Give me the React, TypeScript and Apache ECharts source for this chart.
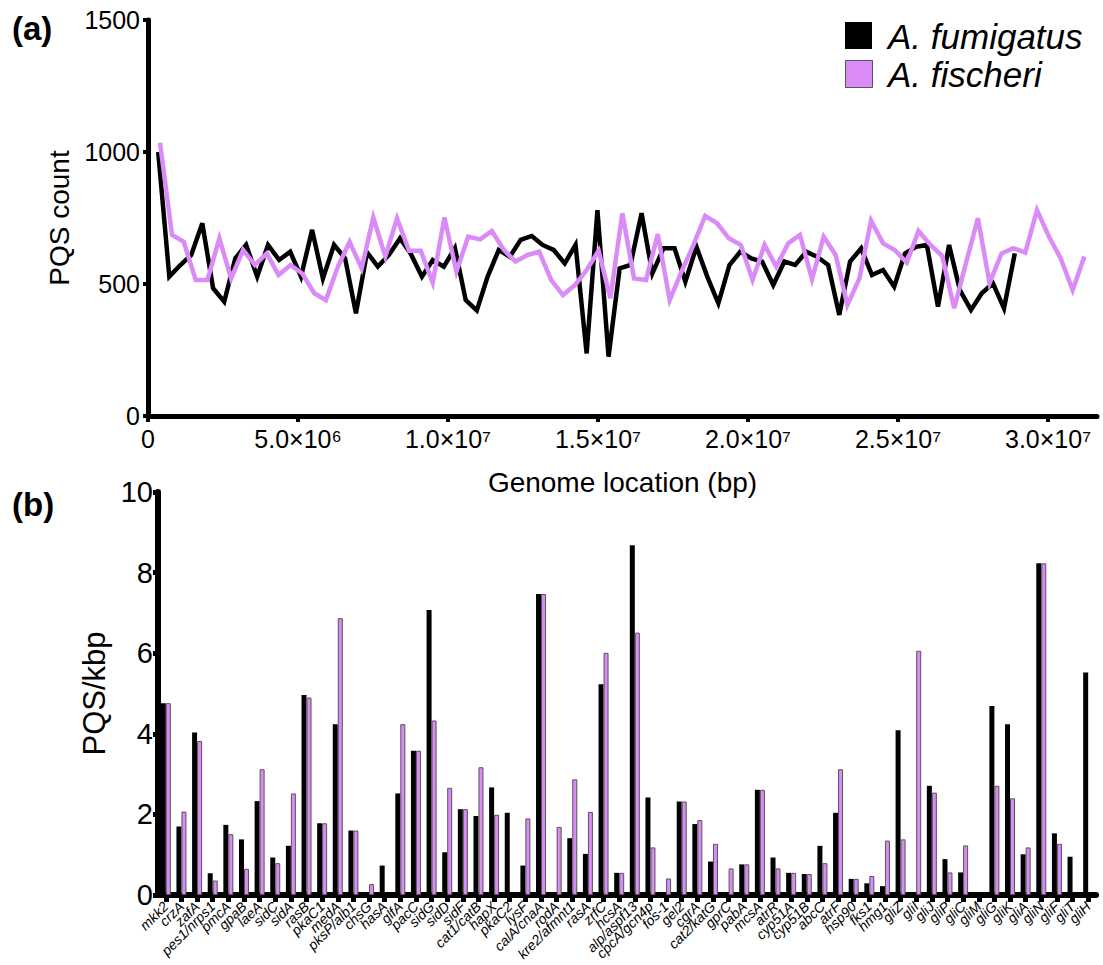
import React, { useEffect, useRef } from "react";
import * as echarts from "echarts";

const FONT = '"Liberation Sans", Arial, Helvetica, sans-serif';
const PURPLE = "#DB8BF7";

// Panel (a): genome windows (position in Mb) and PQS counts
const fumigatusPosMb = [
  0.34, 0.71, 1.08, 1.44, 1.81, 2.17, 2.54, 2.91, 3.27, 3.64,
  4.0, 4.37, 4.74, 5.1, 5.47, 5.83, 6.2, 6.57, 6.93, 7.3,
  7.66, 8.03, 8.4, 8.76, 9.13, 9.49, 9.86, 10.23, 10.59, 10.96,
  11.32, 11.69, 12.06, 12.42, 12.79, 13.15, 13.52, 13.89, 14.25, 14.62,
  14.98, 15.35, 15.72, 16.08, 16.45, 16.81, 17.18, 17.55, 17.91, 18.28,
  18.64, 19.01, 19.38, 19.74, 20.11, 20.47, 20.84, 21.21, 21.57, 21.94,
  22.3, 22.67, 23.04, 23.4, 23.77, 24.13, 24.5, 24.87, 25.23, 25.6,
  25.96, 26.33, 26.7, 27.06, 27.43, 27.79, 28.16, 28.53, 28.89,
];
const fumigatusPQS = [
  1000, 528, 572, 610, 730, 484, 433, 597, 648, 528,
  648, 591, 622, 528, 705, 521, 648, 597, 389, 620,
  566, 610, 673, 614, 528, 591, 566, 636, 439, 400,
  528, 629, 603, 667, 682, 648, 629, 578, 648, 237,
  780, 225, 559, 572, 768, 540, 635, 635, 509, 641,
  528, 427, 572, 622, 597, 585, 496, 585, 572, 622,
  603, 572, 383, 585, 635, 534, 553, 490, 616, 641,
  648, 414, 648, 477, 402, 465, 503, 408, 616,
];
const fischeriPosMb = [
  0.4, 0.8, 1.19, 1.59, 1.98, 2.38, 2.77, 3.17, 3.56, 3.96,
  4.35, 4.75, 5.14, 5.54, 5.93, 6.33, 6.72, 7.12, 7.51, 7.91,
  8.3, 8.7, 9.09, 9.49, 9.88, 10.28, 10.67, 11.07, 11.46, 11.86,
  12.25, 12.65, 13.04, 13.44, 13.83, 14.23, 14.62, 15.02, 15.41, 15.81,
  16.2, 16.6, 16.99, 17.39, 17.78, 18.18, 18.57, 18.97, 19.36, 19.76,
  20.15, 20.55, 20.94, 21.34, 21.73, 22.13, 22.52, 22.92, 23.31, 23.71,
  24.1, 24.5, 24.89, 25.29, 25.68, 26.08, 26.47, 26.87, 27.26, 27.66,
  28.05, 28.45, 28.84, 29.24, 29.63, 30.03, 30.42, 30.82, 31.21,
];
const fischeriPQS = [
  1035, 686, 660, 515, 515, 673, 521, 629, 572, 616,
  534, 572, 540, 465, 439, 566, 660, 559, 752, 604,
  749, 626, 626, 505, 752, 547, 679, 669, 701, 629,
  585, 610, 622, 515, 458, 496, 553, 626, 446, 768,
  521, 515, 689, 439, 547, 648, 758, 730, 673, 648,
  515, 648, 566, 654, 686, 518, 679, 610, 420, 521,
  740, 654, 629, 581, 701, 648, 606, 408, 578, 749,
  503, 616, 636, 619, 780, 679, 597, 477, 604,
];
const genomeTicks = [0, 5e6, 1e7, 1.5e7, 2e7, 2.5e7, 3e7];
const genomeTickLabels = ["0", "5.0×10⁶", "1.0×10⁷", "1.5×10⁷", "2.0×10⁷", "2.5×10⁷", "3.0×10⁷"];

// Panel (b): genes and PQS density
const genes = [
  "mkk2", "crzA", "zafA", "pes1/nrps1", "pmcA", "gpaB", "laeA", "sidC", "sidA", "rasB",
  "pkaC1", "medA", "pksP/alb1", "chsG", "hasA", "glfA", "pacC", "sidG", "sidD", "sidF",
  "cat1/catB", "hapX", "pkaC2", "lysF", "calA/cnaA", "rodA", "kre2/afmnt1", "rasA", "zrfC", "hcsA",
  "alp/aspf13", "cpcA/gcn4p", "fos-1", "gel2", "cgrA", "cat2/katG", "gprC", "pabA", "mcsA", "atrR",
  "cyp51A", "cyp51B", "abcC", "atrF", "hsp90", "fks1", "hmg1", "gliZ", "gliI", "gliJ",
  "gliP", "gliC", "gliM", "gliG", "gliK", "gliA", "gliN", "gliF", "gliT", "gliH",
];
const fumigatusDensity = [
  4.76, 1.70, 4.03, 0.54, 1.74, 1.38, 2.33, 0.93, 1.22, 4.96,
  1.78, 4.24, 1.60, null, 0.73, 2.52, 3.58, 7.07, 1.06, 2.13,
  1.96, 2.67, 2.04, 0.73, 7.47, null, 1.41, 1.02, 5.23, 0.55,
  8.68, 2.42, null, 2.32, 1.76, 0.83, null, 0.76, 2.61, 0.93,
  0.55, 0.52, 1.22, 2.04, 0.40, 0.29, 0.22, 4.09, null, 2.71,
  0.89, 0.56, null, 4.69, 4.24, 1.01, 8.23, 1.53, 0.95, 5.52,
];
const fischeriDensity = [
  4.76, 2.07, 3.82, 0.36, 1.51, 0.65, 3.12, 0.79, 2.52, 4.90,
  1.78, 6.87, 1.60, 0.27, null, 4.24, 3.58, 4.33, 2.66, 2.13,
  3.17, 1.99, null, 1.90, 7.47, 1.69, 2.87, 2.06, 6.01, 0.55,
  6.51, 1.18, 0.41, 2.32, 1.86, 1.27, 0.66, 0.76, 2.61, 0.66,
  0.55, 0.52, 0.79, 3.12, 0.40, 0.47, 1.35, 1.38, 6.06, 2.54,
  0.56, 1.23, null, 2.71, 2.40, 1.18, 8.23, 1.27, null, null,
];

export default function App() {
  const ref = useRef<HTMLDivElement>(null);
  useEffect(() => {
    if (!ref.current) return;
    const chart = echarts.init(ref.current, null, { renderer: "svg" });
    const black = "#000";
    chart.setOption({
      animation: false,
      backgroundColor: "#fff",
      textStyle: { fontFamily: FONT, color: black },
      grid: [
        { left: 148, top: 20, width: 949, height: 396, outerBoundsMode: "none", containLabel: false },
        { left: 158, top: 492, width: 938, height: 403, outerBoundsMode: "none", containLabel: false },
      ],
      xAxis: [
        {
          type: "value",
          gridIndex: 0,
          min: 0,
          max: 31.63e6,
          axisLine: { show: true, lineStyle: { color: black, width: 5 } },
          axisTick: { show: true, customValues: genomeTicks, length: 6, lineStyle: { color: black, width: 4 } },
          axisLabel: {
            customValues: genomeTicks,
            formatter: (v: number) => {
              const i = genomeTicks.indexOf(v);
              return i >= 0 ? genomeTickLabels[i] : "";
            },
            fontSize: 25,
            color: black,
            margin: 10,
            fontFamily: FONT,
          },
          splitLine: { show: false },
          name: "Genome location (bp)",
          nameLocation: "middle",
          nameGap: 52,
          nameTextStyle: { fontSize: 28, color: black, fontFamily: FONT },
        },
        {
          type: "category",
          gridIndex: 1,
          data: genes,
          axisLine: { show: true, lineStyle: { color: black, width: 6 } },
          axisTick: { show: true, alignWithLabel: true, interval: 0, length: 7, lineStyle: { color: black, width: 5 } },
          axisLabel: {
            interval: 0,
            rotate: 45,
            fontSize: 14,
            fontStyle: "italic",
            color: black,
            margin: 9,
            fontFamily: FONT,
            hideOverlap: false,
          },
          splitLine: { show: false },
        },
      ],
      yAxis: [
        {
          type: "value",
          gridIndex: 0,
          min: 0,
          max: 1500,
          interval: 500,
          axisLine: { show: true, lineStyle: { color: black, width: 5 } },
          axisTick: { show: true, length: 5, lineStyle: { color: black, width: 4 } },
          axisLabel: { fontSize: 25, color: black, margin: 8, fontFamily: FONT, formatter: (v: number) => String(v) },
          splitLine: { show: false },
          name: "PQS count",
          nameLocation: "middle",
          nameGap: 72,
          nameTextStyle: { fontSize: 28, color: black, fontFamily: FONT },
        },
        {
          type: "value",
          gridIndex: 1,
          min: 0,
          max: 10,
          interval: 2,
          axisLine: { show: true, lineStyle: { color: black, width: 6 } },
          axisTick: { show: true, length: 5, lineStyle: { color: black, width: 5 } },
          axisLabel: { fontSize: 29, color: black, margin: 5, fontFamily: FONT, formatter: (v: number) => String(v) },
          splitLine: { show: false },
          name: "PQS/kbp",
          nameLocation: "middle",
          nameGap: 47,
          nameTextStyle: { fontSize: 31, color: black, fontFamily: FONT },
        },
      ],
      series: [
        {
          name: "A. fumigatus",
          type: "line",
          xAxisIndex: 0,
          yAxisIndex: 0,
          symbol: "none",
          data: fumigatusPosMb.map((p, i) => [p * 1e6, fumigatusPQS[i]]),
          lineStyle: { color: black, width: 4.5, join: "miter" },
          itemStyle: { color: black },
          z: 3,
        },
        {
          name: "A. fischeri",
          type: "line",
          xAxisIndex: 0,
          yAxisIndex: 0,
          symbol: "none",
          data: fischeriPosMb.map((p, i) => [p * 1e6, fischeriPQS[i]]),
          lineStyle: { color: PURPLE, width: 4.5, join: "miter" },
          itemStyle: { color: PURPLE },
          z: 4,
        },
        {
          name: "A. fumigatus density",
          type: "bar",
          xAxisIndex: 1,
          yAxisIndex: 1,
          barWidth: 5,
          barGap: "0%",
          data: fumigatusDensity,
          itemStyle: { color: black },
        },
        {
          name: "A. fischeri density",
          type: "bar",
          xAxisIndex: 1,
          yAxisIndex: 1,
          barWidth: 5,
          barGap: "0%",
          data: fischeriDensity,
          itemStyle: { color: PURPLE, borderColor: "#555", borderWidth: 1 },
        },
      ],
      graphic: [
        { type: "text", left: 12, top: 12, style: { text: "(a)", fontSize: 33, fontWeight: "bold", fontFamily: FONT, fill: black } },
        { type: "text", left: 12, top: 488, style: { text: "(b)", fontSize: 33, fontWeight: "bold", fontFamily: FONT, fill: black } },
        { type: "rect", shape: { x: 845, y: 22, width: 27, height: 27 }, style: { fill: black } },
        { type: "rect", shape: { x: 845.5, y: 60.5, width: 27, height: 27 }, style: { fill: PURPLE, stroke: "#555", lineWidth: 1 } },
        { type: "text", x: 888, y: 36, style: { text: "A. fumigatus", fontSize: 35, fontStyle: "italic", fontFamily: FONT, fill: black, verticalAlign: "middle" } },
        { type: "text", x: 888, y: 74, style: { text: "A. fischeri", fontSize: 35, fontStyle: "italic", fontFamily: FONT, fill: black, verticalAlign: "middle" } },
      ],
    });
    return () => chart.dispose();
  }, []);
  return <div ref={ref} style={{ position: "absolute", left: 0, top: 0, width: 1103, height: 965 }} />;
}
